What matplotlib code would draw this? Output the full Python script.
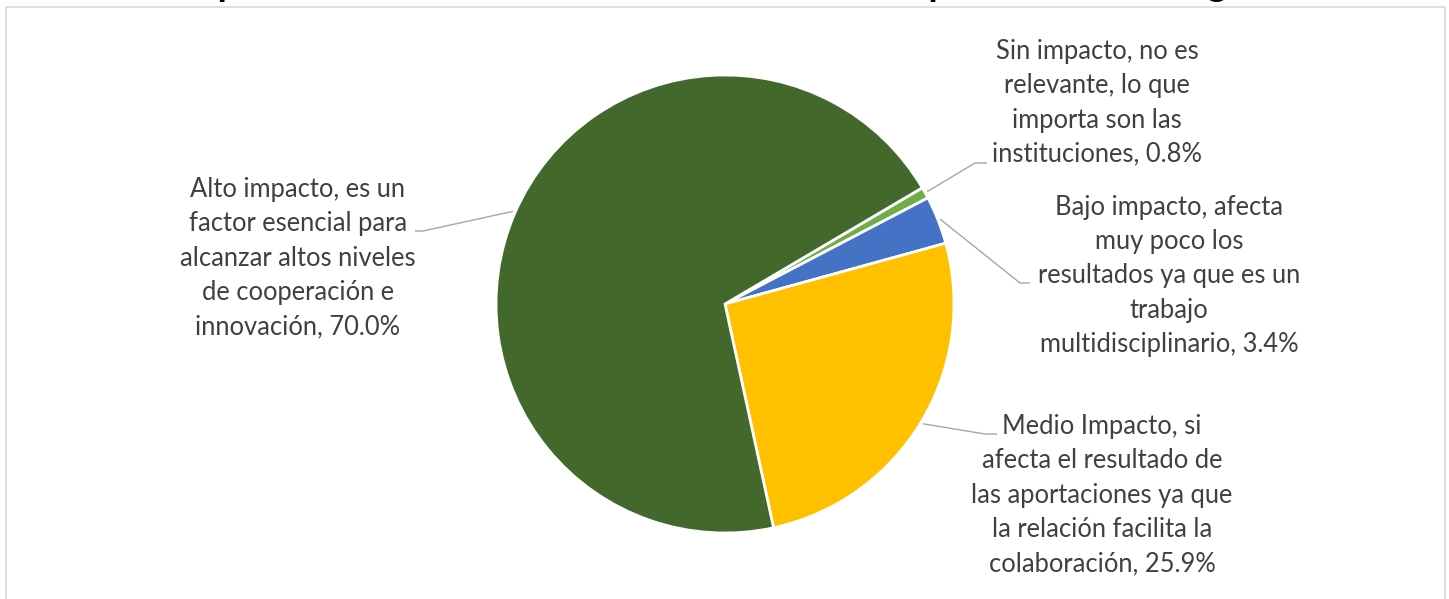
import numpy as np
import matplotlib
matplotlib.use("Agg")
import matplotlib.pyplot as plt
from matplotlib.patches import Rectangle

# data (order as drawn clockwise, starting at the small slice)
categorias = [
    "Sin impacto, no es\nrelevante, lo que\nimporta son las\ninstituciones",
    "Bajo impacto, afecta\nmuy poco los\nresultados ya que es un\ntrabajo\nmultidisciplinario",
    "Medio Impacto, si\nafecta el resultado de\nlas aportaciones ya que\nla relación facilita la\ncolaboración",
    "Alto impacto, es un\nfactor esencial para\nalcanzar altos niveles\nde cooperación e\ninnovación",
]
porcentajes = [0.8, 3.4, 25.9, 70.0]
colores = ["#70AD47", "#4472C4", "#FFC000", "#43682B"]
titulo = "Impacto de la relación entre actores en la cooperación tecnológica"

W, H = 1449, 599
fig = plt.figure(figsize=(W / 100, H / 100), dpi=100)
ax = fig.add_axes([0, 0, 1, 1])

cx, cy, r = 725, H - 304, 229
wedges, _ = ax.pie(porcentajes, colors=colores, startangle=30.5, counterclock=False,
                   center=(cx, cy), radius=r,
                   wedgeprops=dict(edgecolor="white", linewidth=2))
ax.set_xlim(0, W)
ax.set_ylim(0, H)
ax.set_aspect("equal")
ax.axis("off")

# chart area border
ax.add_patch(Rectangle((6, -20), 1439, H - 7 + 20, fill=False,
                       edgecolor="#D9D9D9", linewidth=1.2))

# label layout: text centre, elbow point, end point (pixels, y from top)
layout = [
    ((1097, 103), (975, 163), (987, 163)),
    ((1169, 276), (1020, 283), (1030, 283)),
    ((1102, 495), (985, 434), (997, 434)),
    ((298, 258), (423, 231), (415, 231)),
]

for w, cat, val, (txt, elbow, end) in zip(wedges, categorias, porcentajes, layout):
    ang = np.deg2rad((w.theta1 + w.theta2) / 2)
    sx = cx + r * 1.01 * np.cos(ang)
    sy = cy + r * 1.01 * np.sin(ang)
    ax.plot([sx, elbow[0], end[0]], [sy, H - elbow[1], H - end[1]],
            color="#A6A6A6", linewidth=1.0, solid_capstyle="butt")
    ax.text(txt[0], H - txt[1], f"{cat}, {val:.1f}%", ha="center", va="center",
            fontsize=18.4, family="Lato", color="#404040", linespacing=1.46)

# title, mostly above the visible area (cut off in the original too)
fig.text(0.5, 1 + 4 / H, titulo, ha="center", va="baseline",
         fontsize=27, fontweight="bold", family="Lato", color="black")

fig.savefig("out.png", dpi=100)
